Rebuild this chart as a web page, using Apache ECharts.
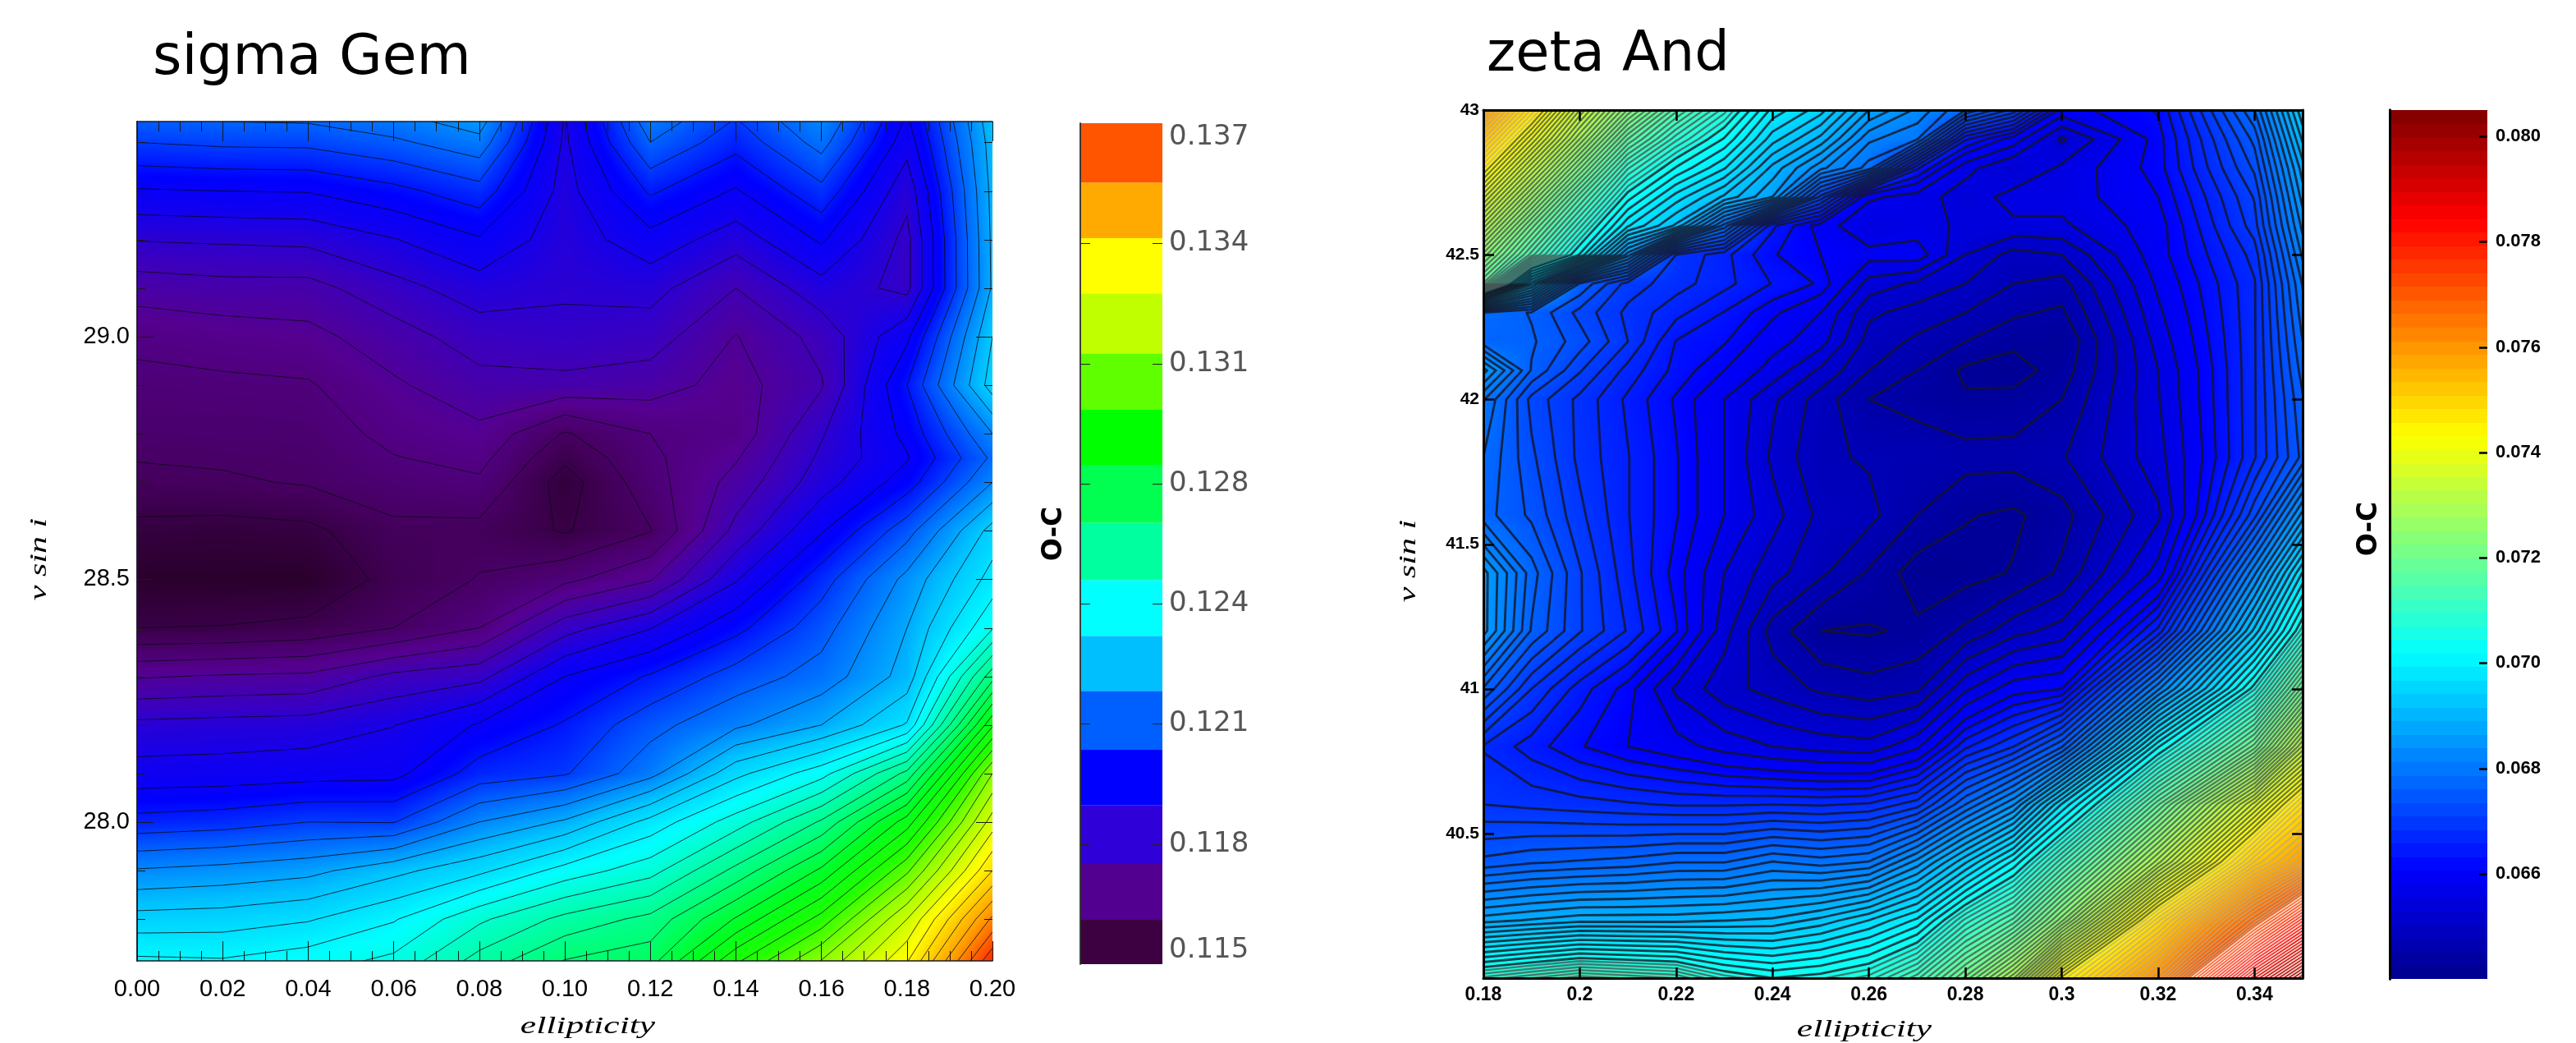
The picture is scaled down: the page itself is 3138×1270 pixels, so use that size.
<!DOCTYPE html>
<html><head><meta charset="utf-8">
<style>html,body{margin:0;padding:0;background:#fff}#c{width:3138px;height:1270px}</style>
<script src="https://cdn.jsdelivr.net/npm/echarts@6/dist/echarts.min.js"></script>
</head><body><div id="c"></div>
<script>
// ---- sigma Gem: values read by counting contours from the minimum (contour number k, O-C = base + k*step)
const sigmaEllipticity = [0,0.02,0.04,0.06,0.08,0.10,0.12,0.14,0.16,0.18,0.20];
const sigmaVsini = [29.443,29.4,29.3,29.2,29.1,29.0,28.9,28.8,28.75,28.7,28.6,28.5,28.4,28.3,28.2,28.1,28.0,27.9,27.8,27.714];
const sigmaContourNumber = [
[10.8,11.0,11.07,11.6,12.5,6.9,11.65,9.9,12.0,7.8,13.7],
[10.0,10.2,10.25,10.8,11.65,6.8,11.0,9.35,11.4,7.4,13.5],
[7.9,8.0,8.05,8.7,9.6,6.6,9.15,7.9,9.7,6.3,13.3],
[6.05,6.15,6.25,6.95,7.9,6.4,7.65,6.45,8.15,5.7,13.2],
[4.45,4.65,4.65,5.65,6.5,6.15,6.35,5.0,6.6,5.7,13.15],
[3.25,3.5,3.7,4.55,5.5,5.7,5.5,3.95,5.35,7.8,14.0],
[2.72,2.8,2.9,3.85,4.65,4.7,4.45,3.6,4.9,9.0,14.5],
[2.33,2.4,2.45,3.3,3.75,1.9,3.0,3.4,5.9,8.3,12.0],
[2.05,2.15,2.25,2.95,3.3,1.2,2.8,3.9,6.2,7.9,11.2],
[1.75,1.85,2.1,2.6,2.85,0.55,2.6,4.35,6.55,8.5,12.0],
[0.7,0.6,0.75,1.75,1.7,0.9,1.95,5.3,7.9,10.6,14.4],
[0,0,0,1.4,2.05,2.75,3.9,6.9,9.55,12.3,15.4],
[1.0,1.05,1.3,2.0,3.0,5.6,6.95,8.7,10.6,13,16.9],
[3.9,4.1,4.2,5.25,5.7,8.0,9.1,10.45,11.4,13.4,20.6],
[6.25,6.35,6.45,6.97,8.1,9.1,10.65,11.8,13,15.1,24.85],
[7.4,7.45,7.6,7.7,9.45,9.9,11.65,14.7,16.6,20.3,29],
[9.35,9.55,10,9.95,12,13.15,15.35,17.5,20.15,24.5,31.5],
[12.1,12.35,12.7,13.7,14.75,16.4,17.6,20.3,23.2,27.8,34],
[14.4,14.5,14.9,15.9,17.8,19.3,20.3,23.1,26.4,31,37.2],
[16.2,16.1,16.55,17.25,19.4,21.05,21.6,25.8,29.05,32.9,39.8]];
const sigmaBase = 0.115, sigmaStep = 0.00055, sigmaContours = 40;
const sigmaBarEdges = [0.115,0.11616,0.11764,0.11915,0.12061,0.12215,0.12359,0.12505,0.12654,0.12806,0.12952,0.13098,0.13255,0.13399,0.13545,0.137];
const sigmaBarColors = ['#3d0040','#52008f','#3000d8','#0000ff','#0060ff','#00bfff','#00ffff','#00ff9f','#00ff50','#00ff00','#5fff00','#bfff00','#ffff00','#ffaa00','#ff5500'];
const sigmaBarTicks = [0.115,0.11814,0.12129,0.12443,0.12757,0.13071,0.13386,0.137];
const sigmaFieldStops = [[0.115,'#2a002c'],[0.116,'#45005e'],[0.117,'#55008f'],[0.118,'#3a00c0'],[0.119,'#1000f0'],[0.1197,'#0000ff'],[0.121,'#0060ff'],[0.1225,'#00c0ff'],[0.124,'#00ffff'],[0.126,'#00ff90'],[0.128,'#00ff20'],[0.1295,'#20ff00'],[0.131,'#90ff00'],[0.133,'#ffff00'],[0.135,'#ffa000'],[0.1365,'#ff4000'],[0.1375,'#ff1000']];
const sigmaMajorY = [28,28.5,29];
const sigmaMinorY = [27.8,27.9,28.1,28.2,28.3,28.4,28.6,28.7,28.8,28.9,29.1,29.2,29.3,29.4];

// ---- zeta And: O-C, in units of 0.001
const zetaEllipticity = [0.18,0.19,0.20,0.21,0.22,0.23,0.24,0.25,0.26,0.27,0.28,0.29,0.30,0.32,0.34,0.35];
const zetaVsini = [43,42.9,42.8,42.7,42.6,42.5,42.4,42.3,42.2,42.1,42,41.8,41.6,41.4,41.2,41,40.8,40.6,40.4,40.2,40];
const zetaOC = [
[76,74.8,73.5,72.4,71.5,70.8,69.9,69.5,68.7,68.3,67.8,67.2,65.9,66.2,67.8,69.4],
[75.3,74.1,72.9,71.7,70.9,70.3,69.5,69,68.2,68,66.4,65.9,65.2,66.1,67.5,69.1],
[74.6,73.4,72.2,71,70.3,69.8,69,68.4,67.9,66.4,65.6,65.25,65.55,66.1,67.3,68.8],
[73.9,72.7,71.5,70.4,69.7,69.2,68.7,67.2,65.8,65.65,65.35,65.6,65.6,66,67.1,68.6],
[73.2,72,70.9,69.8,69.2,67.9,66.4,65.9,65.5,65.6,65.45,65.45,65.45,65.9,67,68.4],
[72.5,71.4,70.3,68.6,66.9,66.6,66.2,66.0,65.85,65.9,65.25,64.9,65.0,65.9,66.8,68.2],
[71.8,69.5,67.6,67.0,66.8,66.6,66.35,66.15,65.4,65.2,65.0,64.75,64.65,65.8,66.7,68],
[67.8,67.6,67.2,66.85,66.6,66.35,66.05,65.75,65.05,64.9,64.75,64.55,64.45,65.7,66.7,67.9],
[67.7,67.65,67.35,66.9,66.35,66.2,65.85,65.6,64.9,64.7,64.5,64.3,64.25,65.6,66.7,67.8],
[68.6,67.6,67.1,66.65,66.3,66,65.65,65.2,64.75,64.5,64.2,64.15,64.35,65.5,66.7,67.7],
[68,67.2,66.85,66.5,66.15,65.75,65.3,64.88,64.5,64.38,64.28,64.32,64.5,65.48,66.7,67.6],
[67.8,67.3,66.85,66.55,66.2,65.75,65.2,64.8,64.72,64.7,64.6,64.6,64.72,65.4,66.7,67.5],
[67.7,67.4,66.95,66.55,66.2,65.75,65.35,64.93,64.83,64.5,64.27,64.2,64.4,65.2,67.2,68.6],
[68.6,67.7,67.1,66.6,66.1,65.5,65.1,64.8,64.47,64.12,64.15,64.27,64.55,65.6,68.3,69.8],
[68.6,67.6,67.1,66.7,66.2,65.35,64.65,64.25,64.22,64.3,64.55,64.9,65.1,66.6,69.3,70.7],
[67.6,66.9,66.45,66.1,65.45,65.1,64.9,64.7,64.6,64.7,65.45,65.9,66,68.3,70.6,72],
[66.7,66.45,66.2,66,65.85,65.65,65.5,65.4,65.35,65.7,66.5,66.9,67.6,70.3,72,73.4],
[66.9,66.85,66.8,66.75,66.7,66.7,66.72,66.7,66.75,67,67.8,68.5,69.8,71.8,73.8,74.9],
[67.5,67.6,67.65,67.7,67.8,67.8,68,67.9,68,68.6,69.4,70.2,71.2,73.1,75.2,75.9],
[68.8,68.9,69,69,69,69.05,69.1,69.3,69.6,70,70.9,71.5,72.5,74.9,76.9,78.2],
[70.9,71.1,71.3,71.2,71.1,70.7,70.5,70.6,70.8,71.3,72.1,73,74.5,76.2,79.2,80.4]];
const zetaBarTicks = [0.066,0.068,0.070,0.072,0.074,0.076,0.078,0.080];
const zetaMajorY = [40.5,41,41.5,42,42.5,43];
const zetaMajorYTicks = [40.5,41,41.5,42,42.5];

// ---- helpers
const hex = h => [parseInt(h.slice(1,3),16),parseInt(h.slice(3,5),16),parseInt(h.slice(5,7),16)];
function sigmaColor(v){
  const s=sigmaFieldStops; if(v<=s[0][0]) return hex(s[0][1]);
  for(let i=1;i<s.length;i++) if(v<=s[i][0]){
    const t=(v-s[i-1][0])/(s[i][0]-s[i-1][0]),a=hex(s[i-1][1]),b=hex(s[i][1]);
    return [a[0]+(b[0]-a[0])*t,a[1]+(b[1]-a[1])*t,a[2]+(b[2]-a[2])*t];
  }
  return hex(s[s.length-1][1]);
}
const clamp01=x=>Math.max(0,Math.min(1,x));
function jet(t){
  t=clamp01(t);
  const r=t<.375?0:t<.625?(t-.375)*4:t<.875?1:1-(t-.875)*4;
  const g=t<.125?0:t<.375?(t-.125)*4:t<.625?1:t<.875?1-(t-.625)*4:0;
  const b=t<.125?.55+t*3.6:t<.375?1:t<.625?1-(t-.375)*4:0;
  return [r*255,g*255,b*255];
}
const zetaColor = v => jet((v-64)/16.5);
const sigmaGrid = sigmaContourNumber.map(r=>r.map(k=>sigmaBase*1000+k*sigmaStep*1000));

function cellSeries(xs,ys,grid,colorFn,xi,yi){
  const data=[];
  for(let j=0;j<ys.length-1;j++)for(let i=0;i<xs.length-1;i++)data.push([i,j]);
  return {type:'custom',coordinateSystem:'cartesian2d',xAxisIndex:xi,yAxisIndex:yi,z:2,silent:true,animation:false,clip:true,data,
    encode:{x:[],y:[]},
    renderItem(params,api){
      const i=api.value(0),j=api.value(1);
      const a=api.coord([xs[i],ys[j]]),b=api.coord([xs[i+1],ys[j+1]]);
      const x0=Math.round(a[0]),x1=Math.round(b[0]),y0=Math.round(a[1]),y1=Math.round(b[1]);
      const w=x1-x0,h=y1-y0; if(w<=0||h<=0) return null;
      const cv=document.createElement('canvas');cv.width=w;cv.height=h;
      const ctx=cv.getContext('2d'),im=ctx.createImageData(w,h);
      const q00=grid[j][i],q10=grid[j][i+1],q01=grid[j+1][i],q11=grid[j+1][i+1];
      let p=0;
      for(let py=0;py<h;py++){const v=(py+.5)/h;
        for(let px=0;px<w;px++){const u=(px+.5)/w;
          const c=colorFn(q00*(1-u)*(1-v)+q10*u*(1-v)+q01*(1-u)*v+q11*u*v);
          im.data[p++]=c[0];im.data[p++]=c[1];im.data[p++]=c[2];im.data[p++]=255;
        }}
      ctx.putImageData(im,0,0);
      return {type:'image',style:{image:cv,x:x0,y:y0,width:w,height:h}};
    }};
}
// marching squares, chained into polylines, in data coordinates
function contourChains(xs,ys,grid,L){
  const segs=new Map();const link=(a,b)=>{
    if(!segs.has(a.k))segs.set(a.k,{p:a.p,n:[]});if(!segs.has(b.k))segs.set(b.k,{p:b.p,n:[]});
    segs.get(a.k).n.push(b.k);segs.get(b.k).n.push(a.k);};
  const e=1e-7;
  for(let j=0;j<ys.length-1;j++)for(let i=0;i<xs.length-1;i++){
    const q=[grid[j][i],grid[j][i+1],grid[j+1][i+1],grid[j+1][i]].map(v=>v===L?v+e:v);
    const pts=[];
    const cross=(a,b,pa,pb,k)=>{if((a<L)!==(b<L)){const t=(L-a)/(b-a);pts.push({k,p:[pa[0]+(pb[0]-pa[0])*t,pa[1]+(pb[1]-pa[1])*t]});}};
    const c=[[xs[i],ys[j]],[xs[i+1],ys[j]],[xs[i+1],ys[j+1]],[xs[i],ys[j+1]]];
    cross(q[0],q[1],c[0],c[1],'h'+i+'_'+j);
    cross(q[1],q[2],c[1],c[2],'v'+(i+1)+'_'+j);
    cross(q[2],q[3],c[2],c[3],'h'+i+'_'+(j+1));
    cross(q[3],q[0],c[3],c[0],'v'+i+'_'+j);
    if(pts.length===2)link(pts[0],pts[1]);
    else if(pts.length===4){
      const m=(q[0]+q[1]+q[2]+q[3])/4,above=q[0]>=L;
      if((m>=L)===above){link(pts[0],pts[1]);link(pts[2],pts[3]);}
      else{link(pts[3],pts[0]);link(pts[1],pts[2]);}
    }
  }
  const chains=[],seen=new Set();
  const walk=start=>{const ch=[start];seen.add(start);let cur=start,go=true;
    while(go){go=false;for(const n of segs.get(cur).n){if(!seen.has(n)){seen.add(n);ch.push(n);cur=n;go=true;break;}}}
    return ch;};
  for(const [k,s] of segs) if(s.n.length===1&&!seen.has(k)) chains.push(walk(k).map(x=>segs.get(x).p));
  for(const [k] of segs) if(!seen.has(k)){const ch=walk(k).map(x=>segs.get(x).p);ch.push(ch[0]);chains.push(ch);}
  return chains;
}
function contourSeries(xs,ys,grid,levels,styleFn,xi,yi){
  return {type:'custom',coordinateSystem:'cartesian2d',xAxisIndex:xi,yAxisIndex:yi,z:3,silent:true,animation:false,clip:true,
    data:levels.map((l,i)=>[i]),encode:{x:[],y:[]},
    renderItem(params,api){
      const L=levels[api.value(0)];
      const chains=contourChains(xs,ys,grid,L);
      let d='';
      for(const ch of chains){ch.forEach((p,n)=>{const c=api.coord(p);d+=(n?'L':'M')+c[0].toFixed(1)+' '+c[1].toFixed(1);});}
      if(!d) return null;
      return {type:'path',shape:{pathData:d},style:Object.assign({fill:'none',lineJoin:'round'},styleFn(L))};
    }};
}
// inward tick marks placed through the axis scale
function tickSeries(vals,edgeX,dir,len,stroke,width,xi,yi){
  return {type:'custom',coordinateSystem:'cartesian2d',xAxisIndex:xi,yAxisIndex:yi,z:6,silent:true,animation:false,clip:false,
    data:vals.map(v=>[v]),encode:{x:[],y:[]},
    renderItem(p,api){const c=api.coord([edgeX,api.value(0)]);const y=Math.round(c[1])+.5;
      return {type:'line',shape:{x1:c[0],y1:y,x2:c[0]+dir*len,y2:y},style:{stroke,lineWidth:width}};}};
}
const sigmaLevels=[];for(let k=1;k<=sigmaContours;k++)sigmaLevels.push(sigmaBase*1000+k*sigmaStep*1000);
const zetaLevels=[];
for(let v=64.25;v<=66;v+=0.25)zetaLevels.push(v);
for(let v=66.18;v<70.5;v+=0.18)zetaLevels.push(v);
for(let v=70.5;v<80.6;v+=0.12)zetaLevels.push(v);

// colour bars
function sigmaBar(xi,yi){return {type:'custom',coordinateSystem:'cartesian2d',xAxisIndex:xi,yAxisIndex:yi,z:2,silent:true,animation:false,
  data:sigmaBarColors.map((c,i)=>[i]),encode:{x:[],y:[]},
  renderItem(p,api){const i=api.value(0);const a=api.coord([0,sigmaBarEdges[i+1]]),b=api.coord([1,sigmaBarEdges[i]]);
    return {type:'rect',shape:{x:a[0],y:a[1],width:b[0]-a[0],height:b[1]-a[1]},style:{fill:sigmaBarColors[i]}};}};}
const zetaBarSteps=[];for(let v=0;v<64;v++)zetaBarSteps.push(v);
function zetaBar(xi,yi){return {type:'custom',coordinateSystem:'cartesian2d',xAxisIndex:xi,yAxisIndex:yi,z:2,silent:true,animation:false,
  data:zetaBarSteps.map(i=>[i]),encode:{x:[],y:[]},
  renderItem(p,api){const i=api.value(0);const lo=0.064+0.0165*i/64,hi=0.064+0.0165*(i+1)/64;
    const a=api.coord([0,hi]),b=api.coord([1,lo]);const c=jet((i+.5)/64);
    return {type:'rect',shape:{x:a[0],y:Math.floor(a[1]),width:b[0]-a[0],height:Math.ceil(b[1])-Math.floor(a[1])},style:{fill:`rgb(${c[0]|0},${c[1]|0},${c[2]|0})`}};}};}

const blank={show:false};
const numF='Liberation Sans';
const lineS={color:'#1a1a2a',width:1.5}, thin={color:'#1a1a1a',width:1};
const lineB={color:'#000',width:3}, tickB={color:'#000',width:2.5};

const xAxis=[
 {gridIndex:0,type:'value',min:0,max:0.2,interval:0.02,position:'bottom',z:10,splitLine:blank,
  axisLine:{show:true,lineStyle:lineS},axisTick:{show:true,inside:true,length:24,lineStyle:thin},
  minorTick:{show:true,splitNumber:4,length:12,lineStyle:thin},
  axisLabel:{margin:20,fontFamily:numF,fontSize:29,color:'#000',formatter:v=>v.toFixed(2)}},
 {gridIndex:0,type:'value',min:0,max:0.2,interval:0.02,position:'top',z:10,splitLine:blank,
  axisLine:{show:true,lineStyle:lineS},axisTick:{show:true,inside:true,length:24,lineStyle:thin},
  minorTick:{show:true,splitNumber:4,length:12,lineStyle:thin},axisLabel:blank},
 {gridIndex:1,type:'value',min:0.18,max:0.35,interval:0.02,position:'bottom',z:10,splitLine:blank,
  axisLine:{show:true,lineStyle:lineB},axisTick:{show:true,inside:true,length:13,lineStyle:tickB},
  axisLabel:{margin:9,fontFamily:numF,fontWeight:'bold',fontSize:23,color:'#000',showMaxLabel:false,formatter:v=>String(+v.toFixed(2))}},
 {gridIndex:1,type:'value',min:0.18,max:0.35,interval:0.02,position:'top',z:10,splitLine:blank,
  axisLine:{show:true,lineStyle:lineB},axisTick:{show:true,inside:true,length:13,lineStyle:tickB},axisLabel:blank},
 {gridIndex:2,type:'value',min:0,max:1,show:false},
 {gridIndex:3,type:'value',min:0,max:1,show:false}
];
const barF=v=>v.toFixed(3);
const yAxis=[
 {gridIndex:0,type:'value',min:27.714,max:29.443,position:'left',z:10,splitLine:blank,axisLine:{show:true,lineStyle:lineS},axisTick:blank,
  axisLabel:{margin:9,fontFamily:numF,fontSize:29,color:'#000',customValues:sigmaMajorY,formatter:v=>v.toFixed(1)}},
 {gridIndex:0,type:'value',min:27.714,max:29.443,position:'right',z:10,splitLine:blank,axisLine:{show:true,lineStyle:lineS},axisTick:blank,axisLabel:blank},
 {gridIndex:1,type:'value',min:40,max:43,position:'left',z:10,splitLine:blank,axisLine:{show:true,lineStyle:lineB},axisTick:blank,
  axisLabel:{margin:5,fontFamily:numF,fontWeight:'bold',fontSize:21,color:'#000',customValues:zetaMajorY,formatter:v=>String(v)}},
 {gridIndex:1,type:'value',min:40,max:43,position:'right',z:10,splitLine:blank,axisLine:{show:true,lineStyle:lineB},axisTick:blank,axisLabel:blank},
 {gridIndex:2,type:'value',min:0.115,max:0.137,position:'right',z:10,splitLine:blank,
  axisLine:{show:true,lineStyle:{color:'#333',width:1.5}},axisTick:blank,
  axisLabel:{margin:8,fontFamily:'DejaVu Sans ExtraLight, DejaVu Sans',fontSize:34,color:'#555',customValues:sigmaBarTicks,formatter:barF,
    verticalAlignMinLabel:'bottom',verticalAlignMaxLabel:'top'}},
 {gridIndex:2,type:'value',min:0.115,max:0.137,position:'left',z:10,splitLine:blank,
  axisLine:{show:true,lineStyle:{color:'#333',width:1.5}},axisTick:blank,axisLabel:blank},
 {gridIndex:3,type:'value',min:0.064,max:0.0805,position:'right',z:10,splitLine:blank,
  axisLine:{show:true,lineStyle:lineB},axisTick:blank,
  axisLabel:{margin:10,fontFamily:numF,fontWeight:'bold',fontSize:22,color:'#000',customValues:zetaBarTicks,formatter:barF}},
 {gridIndex:3,type:'value',min:0.064,max:0.0805,position:'left',z:10,splitLine:blank,
  axisLine:{show:true,lineStyle:lineB},axisTick:blank,axisLabel:blank}
];
const ital=(text,x,y,rot,scale)=>({type:'text',x,y,rotation:rot,scaleX:scale,z:20,silent:true,
  style:{text,x:0,y:0,align:'center',verticalAlign:'middle',font:'italic 30px "Liberation Serif"',fill:'#000'}});
const oc=(x,y)=>({type:'text',x,y,rotation:Math.PI/2,z:20,silent:true,
  style:{text:'O-C',x:0,y:0,align:'center',verticalAlign:'middle',font:'bold 33px "DejaVu Sans"',fill:'#000'}});
const zetaLine=L=>{
  if(L>77.2) return {stroke:'rgba(255,235,225,.85)',lineWidth:2};
  if(L>74.5) return {stroke:'rgba(190,170,130,.7)',lineWidth:2.2};
  if(L>70.5) return {stroke:'rgba(70,80,80,.75)',lineWidth:2.4};
  return {stroke:'rgba(20,20,35,.8)',lineWidth:2.8};
};

const option={
 animation:false,backgroundColor:'#fff',
 title:[
  {text:'sigma Gem',left:186,top:38,padding:0,textStyle:{fontFamily:'DejaVu Sans',fontWeight:'normal',fontSize:68,color:'#000'}},
  {text:'zeta And',left:1811,top:35,padding:0,textStyle:{fontFamily:'DejaVu Sans',fontWeight:'normal',fontSize:67,color:'#000'}}
 ],
 grid:[
  {left:167,top:148,width:1042,height:1022},
  {left:1807,top:134,width:998,height:1057},
  {left:1316,top:150,width:100,height:1024},
  {left:2911,top:134,width:119,height:1058}
 ],
 xAxis,yAxis,
 series:[
  cellSeries(sigmaEllipticity,sigmaVsini,sigmaGrid,v=>sigmaColor(v/1000),0,0),
  contourSeries(sigmaEllipticity,sigmaVsini,sigmaGrid,sigmaLevels,()=>({stroke:'rgba(10,10,20,.8)',lineWidth:1}),0,0),
  cellSeries(zetaEllipticity,zetaVsini,zetaOC,zetaColor,2,2),
  contourSeries(zetaEllipticity,zetaVsini,zetaOC,zetaLevels,zetaLine,2,2),
  sigmaBar(4,4),zetaBar(5,6),
  tickSeries(sigmaMajorY,0,1,20,'#1a1a1a',1,0,0),
  tickSeries(sigmaMinorY,0,1,10,'#1a1a1a',1,0,0),
  tickSeries(sigmaMajorY,0.2,-1,20,'#1a1a1a',1,0,1),
  tickSeries(sigmaMinorY,0.2,-1,10,'#1a1a1a',1,0,1),
  tickSeries(zetaMajorYTicks,0.18,1,13,'#000',2.5,2,2),
  tickSeries(zetaMajorYTicks,0.35,-1,13,'#000',2.5,2,3),
  tickSeries(sigmaBarTicks.slice(1,-1),0,1,12,'#222',1,4,5),
  tickSeries(sigmaBarTicks.slice(1,-1),1,-1,12,'#222',1,4,4),
  tickSeries(zetaBarTicks,1,-1,10,'#000',2.5,5,6)
 ],
 graphic:{elements:[
  ital('ellipticity',716,1250,0,1.45),
  ital('ellipticity',2271,1254,0,1.45),
  ital('v sin i',48,681,Math.PI/2,1.4),
  ital('v sin i',1716,683,Math.PI/2,1.4),
  oc(1284,650),oc(2886,644)
 ]}
};
const chart=echarts.init(document.getElementById('c'),null,{renderer:'canvas',width:3138,height:1270});
chart.setOption(option);
</script></body></html>
